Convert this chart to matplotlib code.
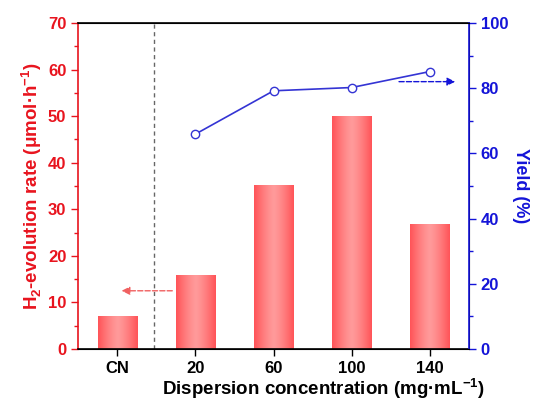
import numpy as np
import matplotlib.pyplot as plt
from matplotlib.ticker import MultipleLocator
from matplotlib.colors import LinearSegmentedColormap

plt.rcParams['font.family'] = ['Liberation Sans', 'DejaVu Sans']
plt.rcParams['font.weight'] = 'bold'
plt.rcParams['mathtext.fontset'] = 'custom'
plt.rcParams['mathtext.rm'] = 'Liberation Sans:bold'
plt.rcParams['mathtext.bf'] = 'Liberation Sans:bold'

categories = ['CN', '20', '60', '100', '140']
h2_rate = [7.0, 15.8, 35.3, 50.0, 26.8]
yield_cats = ['20', '60', '100', '140']
yield_pct = [65.9, 79.2, 80.2, 85.1]

red = '#E8141E'
blue = '#1414D8'
line_blue = '#3434D4'

fig = plt.figure(figsize=(5.39, 4.03), dpi=100)
ax = fig.add_axes([0.145, 0.134, 0.725, 0.809])
x = np.arange(len(categories))

bars = ax.bar(x, h2_rate, width=0.5, color='none', edgecolor='none', zorder=2)
# horizontal gradient inside each bar, lighter in the middle
grad = np.abs(np.linspace(-1, 1, 64)) ** 1.3
grad = grad[np.newaxis, :]
cmap = LinearSegmentedColormap.from_list('bar', ['#FF9A9A', '#FF5458'])
for b in bars:
    x0, w, h = b.get_x(), b.get_width(), b.get_height()
    im = ax.imshow(grad, cmap=cmap, aspect='auto', extent=[x0, x0 + w, 0, h],
                   zorder=2, interpolation='bicubic')
    im.set_clip_path(b)

ax.axvline(0.47, color='#666666', ls=(0, (3, 2.5)), lw=1.0, zorder=1)
ax.annotate('', xy=(0.02, 12.5), xytext=(0.74, 12.5),
            arrowprops=dict(arrowstyle='-|>', color='#F06060', ls='--', lw=1.0,
                            mutation_scale=12))

ax.set_xlim(-0.5, 4.5)
ax.set_ylim(0, 70)
ax.set_xticks(x)
ax.set_xticklabels(categories)
ax.yaxis.set_major_locator(MultipleLocator(10))
ax.yaxis.set_minor_locator(MultipleLocator(5))
ax.tick_params(axis='y', which='both', direction='out', colors=red, labelsize=12)
ax.tick_params(axis='y', which='major', length=5, width=1)
ax.tick_params(axis='y', which='minor', length=3, width=1)
ax.tick_params(axis='x', direction='out', length=5, width=1, labelsize=12)
ax.spines['left'].set_color(red)
ax.spines['left'].set_linewidth(1.2)
ax.spines['bottom'].set_linewidth(1.2)
ax.spines['top'].set_linewidth(1.2)
ax.set_ylabel('H$_{2}$-evolution rate (μmol·h$^{-1}$)', color=red,
              fontsize=13.5, fontweight='bold', labelpad=3)
ax.set_xlabel('Dispersion concentration (mg·mL$^{-1}$)', fontsize=13.5,
              fontweight='bold')
ax.xaxis.set_label_coords(0.628, -0.083)

ax2 = ax.twinx()
ax2.plot([categories.index(c) for c in yield_cats], yield_pct, color=line_blue,
         lw=1.2, marker='o', ms=6, mfc='white', mec=line_blue, mew=1.0, zorder=3)
ax2.annotate('', xy=(4.36, 82), xytext=(3.57, 82),
             arrowprops=dict(arrowstyle='-|>', color=blue, ls='--', lw=1.0,
                             mutation_scale=12))
ax2.set_ylim(0, 100)
ax2.yaxis.set_major_locator(MultipleLocator(20))
ax2.yaxis.set_minor_locator(MultipleLocator(10))
ax2.tick_params(axis='y', which='both', direction='out', colors=blue, labelsize=12)
ax2.tick_params(axis='y', which='major', length=5, width=1)
ax2.tick_params(axis='y', which='minor', length=3, width=1)
ax2.spines['right'].set_color(blue)
ax2.spines['right'].set_linewidth(1.2)
ax2.spines['left'].set_visible(False)
ax2.set_ylabel('Yield (%)', color=blue, fontsize=13, fontweight='bold',
               rotation=270, labelpad=15)

fig.savefig('out.png', dpi=100)
